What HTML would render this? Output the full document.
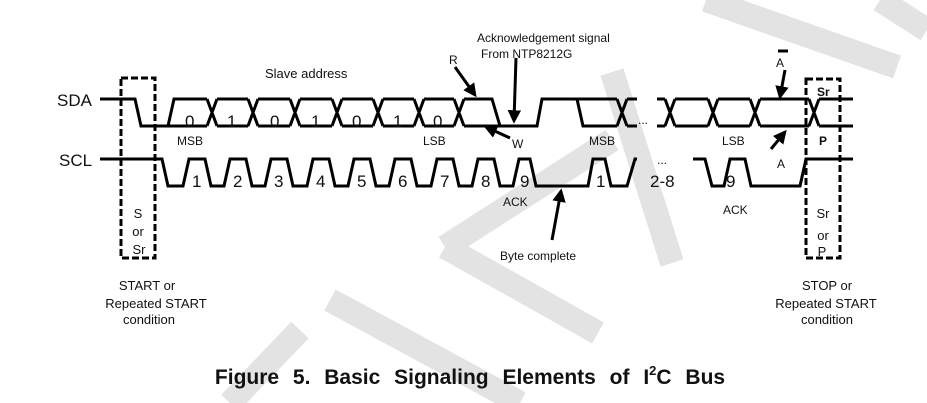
<!DOCTYPE html>
<html><head><meta charset="utf-8"><style>
html,body{margin:0;padding:0;background:#fff;}
svg{display:block;}
text{font-family:"Liberation Sans",sans-serif;fill:#111;}
</style></head><body>
<svg width="927" height="403" viewBox="0 0 927 403" xmlns="http://www.w3.org/2000/svg">
<defs>
<marker id="ah" viewBox="0 0 10 10" refX="8" refY="5" markerWidth="4.5" markerHeight="4.5" orient="auto-start-reverse"><path d="M0,0 L10,5 L0,10 z" fill="#000"/></marker>
</defs>
<!-- watermark -->
<g stroke="#e3e3e3" stroke-width="24" fill="none" stroke-linecap="butt">
<line x1="706" y1="0" x2="897" y2="67"/>
<line x1="880" y1="0" x2="927" y2="30"/>
<line x1="612" y1="72" x2="672" y2="263"/>
<line x1="612" y1="140" x2="445" y2="247"/>
<line x1="445" y1="247" x2="598" y2="333"/>
<line x1="330" y1="300" x2="520" y2="403"/>
<line x1="300" y1="330" x2="230" y2="403"/>
</g>
<g stroke="#000" stroke-width="3" fill="none" stroke-linejoin="miter">
<!-- SDA -->
<path d="M100 99 H135 L141 126 H207"/>
<path d="M168 126 L174 99 H207"/>
<path d="M207 99 L217 126 M207 126 L217 99 M217 99 H248 M217 126 H248
M248 99 L258 126 M248 126 L258 99 M258 99 H290 M258 126 H290
M290 99 L300 126 M290 126 L300 99 M300 99 H332 M300 126 H332
M332 99 L342 126 M332 126 L342 99 M342 99 H373 M342 126 H373
M373 99 L383 126 M373 126 L383 99 M383 99 H414 M383 126 H414
M414 99 L424 126 M414 126 L424 99 M424 99 H454 M424 126 H454
M454 99 L464 126 M454 126 L464 99 M464 99 H492 L500 126 M464 126 H537 L542 99 H617
M577 99 L583 126 H617
M617 99 L627 126 M617 126 L627 99 M627 99 H637 M627 126 H637
M657 99 H665 M657 126 H665 M665 99 L675 126 M665 126 L675 99 M675 99 H708 M675 126 H708
M708 99 L718 126 M708 126 L718 99 M718 99 H750 M718 126 H750
M750 99 L760 126 M750 126 L760 99 M760 99 H809 M760 126 H809
M809 99 L819 126 M809 126 L819 99 M819 99 H853 M819 126 H853"/>
<!-- SCL -->
<path d="M100 159 H162 L168 186 H183 L189 159 H205 L211 186 H224 L230 159 H246 L252 186 H265 L271 159 H287 L293 186 H307 L313 159 H329 L335 186 H348 L354 159 H370 L376 186 H389 L395 159 H411 L417 186 H431 L437 159 H453 L459 186 H472 L478 159 H494 L500 186 H513 L519 159 H530 L536 186 H588 L593 159 H605 L611 186 H627 L635 159 H637"/>
<path d="M693 159 H705 L712 186 H724 L730 159 H745 L751 186 H800 L806 159 H853"/>
</g>
<!-- dashed boxes -->
<g stroke="#000" stroke-width="3" fill="none" stroke-dasharray="7,3">
<rect x="121" y="78" width="34" height="180"/>
<rect x="806" y="79" width="34" height="179"/>
</g>
<!-- arrows -->
<g stroke="#000" stroke-width="3" fill="none">
<line x1="455" y1="67" x2="475" y2="95" marker-end="url(#ah)"/>
<line x1="516" y1="58" x2="514" y2="121" marker-end="url(#ah)"/>
<line x1="510" y1="138" x2="486" y2="127" marker-end="url(#ah)"/>
<line x1="552" y1="240" x2="561" y2="191" marker-end="url(#ah)"/>
<line x1="785" y1="70" x2="780" y2="97" marker-end="url(#ah)"/>
<line x1="771" y1="149" x2="785" y2="132" marker-end="url(#ah)"/>
<line x1="778" y1="51" x2="788" y2="51"/>
</g>
<!-- labels -->
<text x="57" y="106" font-size="17">SDA</text>
<text x="59" y="166" font-size="17">SCL</text>
<text x="265" y="78" font-size="13">Slave address</text>
<g font-size="17">
<text x="185" y="127">0</text><text x="227" y="127">1</text><text x="270" y="127">0</text><text x="311" y="127">1</text><text x="352" y="127">0</text><text x="393" y="127">1</text><text x="433" y="127">0</text>
<text x="192" y="187">1</text><text x="233" y="187">2</text><text x="274" y="187">3</text><text x="316" y="187">4</text><text x="357" y="187">5</text><text x="398" y="187">6</text><text x="440" y="187">7</text><text x="481" y="187">8</text><text x="520" y="187">9</text><text x="596" y="187">1</text><text x="650" y="187">2-8</text><text x="726" y="187">9</text>
</g>
<g font-size="12">
<text x="177" y="145">MSB</text><text x="423" y="145">LSB</text><text x="589" y="145">MSB</text><text x="722" y="145">LSB</text>
<text x="512" y="148">W</text><text x="449" y="64">R</text>
<text x="776" y="67">A</text><text x="777" y="168">A</text>
<text x="503" y="206">ACK</text><text x="723" y="214">ACK</text>
<text x="500" y="260">Byte complete</text>
<text x="477" y="42">Acknowledgement signal</text>
<text x="481" y="58">From NTP8212G</text>
<text x="638" y="124">...</text><text x="657" y="164">...</text>
</g>
<text x="817" y="96" font-size="12" font-weight="bold">Sr</text>
<text x="819" y="145" font-size="12" font-weight="bold">P</text>
<g font-size="13" text-anchor="middle">
<text x="138" y="218">S</text><text x="138" y="236">or</text><text x="139" y="254">Sr</text>
<text x="823" y="218">Sr</text><text x="823" y="240">or</text><text x="822" y="256">P</text>
<text x="147" y="290">START or</text><text x="156" y="308">Repeated START</text><text x="149" y="324">condition</text>
<text x="827" y="290">STOP or</text><text x="826" y="308">Repeated START</text><text x="827" y="324">condition</text>
</g>
<text x="470" y="384" font-size="21" font-weight="bold" text-anchor="middle" word-spacing="8">Figure 5. Basic Signaling Elements of I<tspan font-size="13" dy="-9">2</tspan><tspan dy="9">C Bus</tspan></text>
</svg>
</body></html>
